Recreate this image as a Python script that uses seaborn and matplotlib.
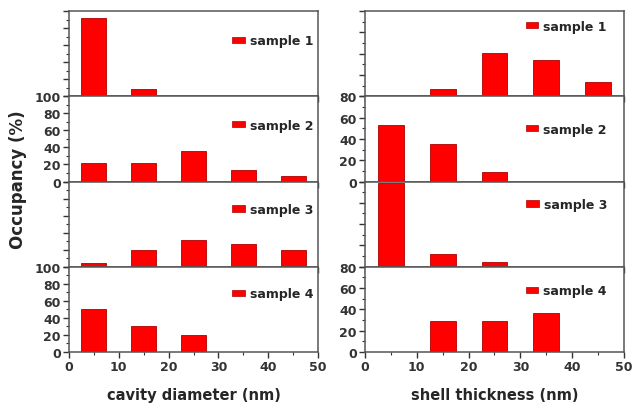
import matplotlib
matplotlib.use("Agg")
import matplotlib.pyplot as plt
import matplotlib.patches as mpatches
from matplotlib.ticker import MultipleLocator, NullFormatter
import numpy as np
import pandas as pd
import seaborn as sns

sns.set_style("ticks")
plt.rcParams["font.family"] = ["DejaVu Sans"]
plt.rcParams["font.weight"] = "bold"

bins = [5, 15, 25, 35, 45]

cavity_s1 = [92, 9, 0, 0, 0]
cavity_s2 = [22, 22, 36, 14, 7]
cavity_s3 = [4, 20, 31, 27, 20]
cavity_s4 = [50, 30, 20, 0, 0]

shell_s1 = [0, 7, 41, 34, 13]
shell_s2 = [53, 35, 9, 0, 0]
shell_s3 = [79, 12, 4, 0, 0]
shell_s4 = [0, 29, 29, 37, 0]

samples = ["sample 1", "sample 2", "sample 3", "sample 4"]
left_cols = [cavity_s1, cavity_s2, cavity_s3, cavity_s4]
right_cols = [shell_s1, shell_s2, shell_s3, shell_s4]

# legend offsets (px below the top of each panel)
left_leg = [30, 29, 28, 27]
right_leg = [15, 33, 23, 24]

fig = plt.figure(figsize=(6.33, 4.06), dpi=100)
gs = fig.add_gridspec(4, 2, left=69/633, right=624/633, top=1-12/406, bottom=1-353/406,
                      hspace=0, wspace=0.185, width_ratios=[249, 259])

row_h = 341/4

for col in range(2):
	vals_all = left_cols if col == 0 else right_cols
	ymax = 100 if col == 0 else 80
	for r in range(4):
		ax = fig.add_subplot(gs[r, col])
		df = pd.DataFrame({'x': bins, 'y': vals_all[r]})
		df = df[df['y'] > 0]
		sns.barplot(data=df, x='x', y='y', native_scale=True, width=0.5, color='#ff0000',
					saturation=1, errorbar=None, edgecolor='#b00000', linewidth=0.6, ax=ax)
		ax.set_xlim(0, 50)
		ax.set_ylim(0, ymax)
		ax.set_xlabel('')
		ax.set_ylabel('')
		ax.xaxis.set_major_locator(MultipleLocator(10))
		ax.xaxis.set_minor_locator(MultipleLocator(5))
		ax.yaxis.set_major_locator(MultipleLocator(20))
		ax.yaxis.set_minor_locator(MultipleLocator(10))
		ax.tick_params(axis='both', which='major', direction='out', length=4, width=1, labelsize=9, colors='#333333', labelcolor='#333333', pad=2)
		ax.tick_params(axis='both', which='minor', direction='out', length=2, width=0.8, colors='#333333')
		for sp in ax.spines.values():
			sp.set_visible(True)
			sp.set_linewidth(1.1)
			sp.set_color('#555555')
		if r % 2 == 0:
			ax.yaxis.set_major_formatter(NullFormatter())
		if r < 3:
			ax.xaxis.set_major_formatter(NullFormatter())
		for lab in ax.get_xticklabels() + ax.get_yticklabels():
			lab.set_fontweight('bold')
		xa = 0.98 if col == 0 else 0.934
		ya = 1 - left_leg[r]/row_h if col == 0 else 1 - right_leg[r]/row_h
		ax.legend(handles=[mpatches.Patch(facecolor='#ff0000', edgecolor='#b00000', linewidth=0.5)],
				  labels=[samples[r]], loc='center right', bbox_to_anchor=(xa, ya),
				  frameon=False, borderaxespad=0, borderpad=0, handlelength=1.0,
				  handleheight=0.4, handletextpad=0.4,
				  prop={'size': 9, 'weight': 'bold'})
		if r == 3:
			ax.set_xlabel('cavity diameter (nm)' if col == 0 else 'shell thickness (nm)',
						  fontsize=10.5, fontweight='bold', va='center')
			ax.xaxis.set_label_coords(0.5, -(396-353)/row_h)

fig.text(18/633, 1-180/406, 'Occupancy (%)', rotation=90, ha='center', va='center',
		 fontsize=12, fontweight='bold')

fig.savefig('out.png', dpi=100)
